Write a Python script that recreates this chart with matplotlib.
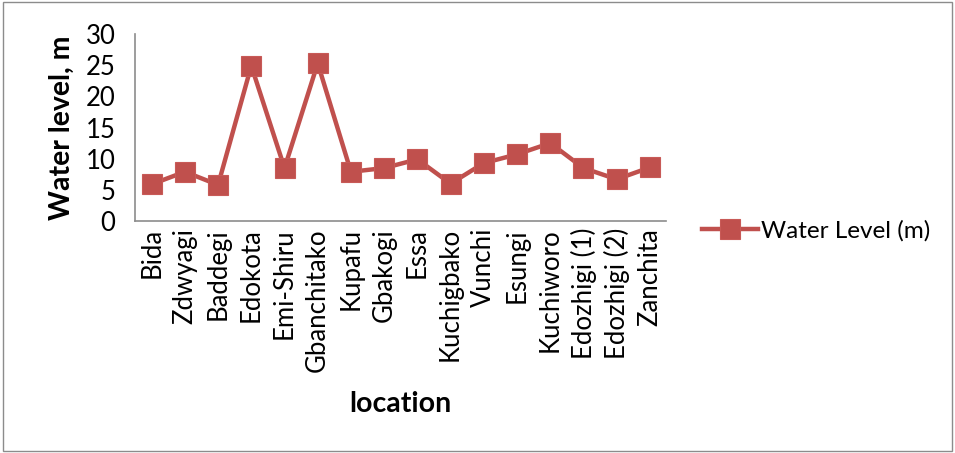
import matplotlib.pyplot as plt
from matplotlib.patches import Rectangle

plt.rcParams['font.family'] = ['Lato', 'DejaVu Sans']

locations = ['Bida', 'Zdwyagi', 'Baddegi', 'Edokota', 'Emi-Shiru', 'Gbanchitako',
             'Kupafu', 'Gbakogi', 'Essa', 'Kuchigbako', 'Vunchi', 'Esungi',
             'Kuchiworo', 'Edozhigi (1)', 'Edozhigi (2)', 'Zanchita']
water_level = [5.9, 7.9, 5.8, 24.9, 8.5, 25.3, 7.9, 8.5, 9.9, 6.0, 9.3, 10.7,
               12.5, 8.5, 6.7, 8.6]

fig = plt.figure(figsize=(9.55, 4.53), dpi=100)
ax = fig.add_axes([0.1414, 0.512, 0.5565, 0.413])

x = list(range(len(locations)))
ax.plot(x, water_level, color='#C0504D', lw=3.2, marker='s', markersize=14,
        markerfacecolor='#C0504D', markeredgecolor='#C85A57', markeredgewidth=0.8,
        label='Water Level (m)')

ax.set_xlim(-0.5, len(locations) - 0.5)
ax.set_ylim(0, 30)
ax.set_yticks(range(0, 31, 5))
ax.set_xticks(x)
ax.set_xticklabels(locations, rotation=90)
ax.tick_params(axis='both', length=0, labelsize=18.5, pad=5)
ax.tick_params(axis='y', pad=14)
for s in ['top', 'right']:
    ax.spines[s].set_visible(False)
for s in ['left', 'bottom']:
    ax.spines[s].set_color('#8c8c8c')
    ax.spines[s].set_linewidth(1.2)

ax.set_ylabel('Water level, m', fontsize=20.5, fontweight='bold', labelpad=8)
ax.set_xlabel('location', fontsize=20.5, fontweight='bold', labelpad=14)

ax.legend(loc='center left', bbox_to_anchor=(1.025, -0.05), frameon=False,
          fontsize=17.5, handlelength=2.3, handletextpad=0.15)

fig.patches.append(Rectangle((0.003, 0.004), 0.994, 0.992, transform=fig.transFigure,
                             fill=False, edgecolor='#8c8c8c', lw=1))

fig.savefig('out.png', dpi=100)
